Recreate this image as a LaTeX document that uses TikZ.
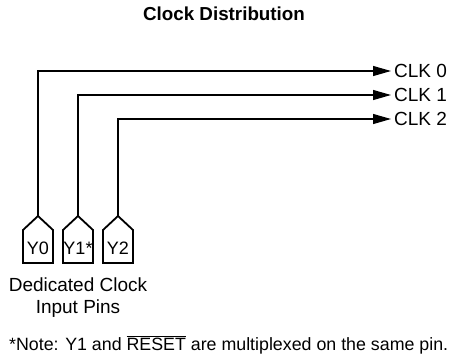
\documentclass[tikz,border=0pt]{standalone}
\usepackage{fontspec}
\setmainfont{Liberation Sans}
\usetikzlibrary{arrows.meta}
\begin{document}
\begin{tikzpicture}[x=1pt,y=-1pt,
  txt/.style={font=\fontsize{19}{22}\selectfont, inner sep=0pt},
  pinbox/.style={draw, line width=1.8pt, line join=miter},
  wire/.style={line width=1.1pt, -{Triangle[length=18pt,width=10pt]}}]
\useasboundingbox (0,0) rectangle (450,357);
\node[txt, font=\fontsize{18.8}{22}\selectfont\bfseries] (title) at (224,14) {Clock Distribution};
% pins
\foreach \n/\cx/\lab in {0/38/Y0, 1/78/{Y1*}, 2/118/Y2}{
  \draw[pinbox] (\cx-15,263) -- (\cx-15,230) -- (\cx,216) -- (\cx+15,230) -- (\cx+15,263) -- cycle;
  \coordinate (p\n) at (\cx,216);
  \node[txt, font=\fontsize{18}{22}\selectfont] (y\n) at (\cx,248) {\lab};
}
% clock labels
\node[txt, anchor=west] (c0) at (394,71) {CLK 0};
\node[txt, anchor=west] (c1) at (394,95) {CLK 1};
\node[txt, anchor=west] (c2) at (394,119) {CLK 2};
\draw[wire] (p0) |- ([xshift=-3pt]c0.west);
\draw[wire] (p1) |- ([xshift=-3pt]c1.west);
\draw[wire] (p2) |- ([xshift=-3pt]c2.west);
\node[txt, align=center] (ded) at (78,298) {Dedicated Clock\\Input Pins};
\node[txt, anchor=west, font=\fontsize{17.8}{22}\selectfont] (note) at (9,345) {*Note: Y1 and $\overline{\mbox{RESET}}$ are multiplexed on the same pin.};
\end{tikzpicture}
\end{document}
